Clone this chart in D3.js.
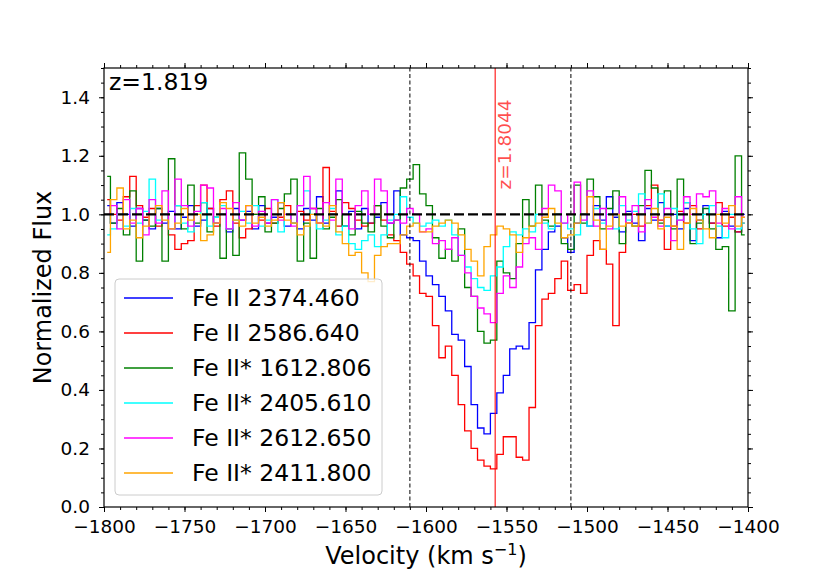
<!DOCTYPE html>
<html>
<head>
<meta charset="utf-8">
<script src="https://cdn.jsdelivr.net/npm/d3@7/dist/d3.min.js"></script>
<style>
  body { margin: 0; background: #fff; }
  svg { font-family: "DejaVu Sans", sans-serif; }
</style>
</head>
<body>
<svg id="chart" width="830" height="570"></svg>
<script>
// ---------------- data ----------------
const velStart = -1800;   // km/s, left edge of first bin
const velStep = 4;        // km/s bin width
const xTicks = [-1800, -1750, -1700, -1650, -1600, -1550, -1500, -1450, -1400];
const yTicks = [0.0, 0.2, 0.4, 0.6, 0.8, 1.0, 1.2, 1.4];
const windowEdges = [-1610, -1510];
const zSystem = "z=1.819";
const zComponent = "z=1.8044";
const zComponentVel = -1557;

const labels = ["Fe II 2374.460", "Fe II 2586.640", "Fe II* 1612.806",
                "Fe II* 2405.610", "Fe II* 2612.650", "Fe II* 2411.800"];
const colors = ["#0000ff", "#ff0000", "#008000", "#00ffff", "#ff00ff", "#ffa500"];

const fluxFeII2374 = [
  1.03,0.97,1.04,1.00,0.96, 1.02,0.98,0.95,1.02,0.97, 1.01,0.95,0.99,1.03,0.96, 0.98,1.02,0.97,1.00,0.94,
  1.02,0.98,1.01,0.95,1.03, 0.97,0.99,1.04,0.96,1.00, 0.95,1.02,0.98,1.06,0.97, 1.00,1.08,0.96,1.01,0.95,
  1.02,0.97,0.99,1.04,0.97,
  1.08,0.93,0.92,0.91,0.84, 0.79,0.76,0.72,0.67,0.59, 0.57,0.48,0.35,0.27,0.25, 0.32,0.39,0.45,0.54,0.55,
  0.54,0.63,0.81,0.88,0.94, 0.96,0.92,0.87,0.97,1.00,
  0.96,1.03,0.98,1.06,0.99, 0.94,1.01,0.97,0.91,1.02, 0.98,1.04,0.96,1.00,0.95, 1.02,0.91,0.98,1.03,0.97,
  0.92,1.01,0.96,0.94,1.00];
const fluxFeII2586 = [
  1.05,1.00,0.98,1.06,1.13, 1.03,0.99,1.02,0.96,1.00, 0.93,0.88,0.90,0.91,1.03, 1.10,1.02,0.96,1.05,1.08,
  0.97,0.92,0.95,1.00,0.98, 1.02,0.97,0.99,1.03,0.97, 1.01,0.98,1.02,0.97,1.16, 1.01,0.96,1.04,1.02,0.98,
  0.96,0.97,1.03,0.98,0.93,
  0.91,0.87,0.83,0.79,0.73, 0.72,0.62,0.51,0.55,0.45, 0.35,0.26,0.20,0.16,0.14, 0.13,0.18,0.24,0.24,0.17,
  0.16,0.34,0.62,0.71,0.73, 0.78,0.84,0.74,0.76,0.73,
  0.86,0.91,0.88,0.83,0.62, 0.87,0.97,1.00,0.96,1.03, 1.10,0.98,0.88,0.96,1.01, 0.97,1.03,0.95,1.00,0.97,
  1.04,0.96,0.99,0.94,0.97];
const fluxFeIIs1612 = [
  1.13,0.97,1.02,0.93,1.08, 0.84,0.98,0.96,1.02,0.84, 1.19,1.03,0.95,1.10,0.97, 1.04,0.94,0.99,0.85,0.95,
  0.86,1.21,1.12,1.00,1.06, 0.94,0.97,1.02,1.07,1.12, 0.84,0.97,0.85,1.02,0.95, 0.99,1.05,0.96,0.93,1.01,
  0.97,0.94,1.03,0.96,0.92,
  0.98,1.09,1.12,1.17,1.07, 1.03,0.92,0.85,0.88,0.84, 0.95,0.75,0.72,0.60,0.56, 0.57,0.84,0.80,0.78,0.90,
  1.05,0.96,1.10,0.98,0.96, 1.00,0.90,0.88,1.10,0.97,
  1.12,1.06,0.95,1.02,1.08, 0.90,1.00,0.96,1.03,1.15, 1.09,0.97,1.08,0.95,1.12, 1.04,0.90,0.97,1.02,0.95,
  0.88,0.89,0.67,1.20,0.93];
const fluxFeIIs2405 = [
  0.93,0.95,1.00,0.96,1.02, 0.97,1.01,1.12,0.98,1.00, 0.95,1.03,0.97,0.94,1.00, 1.04,0.96,0.99,1.03,0.95,
  0.98,1.01,0.97,1.03,0.96, 0.98,1.05,0.94,1.00,0.97, 1.03,1.08,1.00,0.95,0.98, 1.02,0.93,0.96,0.90,0.88,
  0.91,0.93,0.89,0.93,0.98,
  1.00,1.06,0.99,0.97,0.96, 0.97,0.98,0.96,0.98,0.93, 0.86,0.82,0.78,0.75,0.74, 0.79,0.82,0.89,0.94,0.93,
  0.95,0.94,1.00,0.97,0.95, 1.00,0.97,0.95,0.93,1.00,
  0.96,1.02,0.97,1.00,0.95, 1.03,0.98,1.01,1.07,0.97, 1.00,1.07,0.96,1.02,0.98, 1.04,0.95,0.90,1.00,1.03,
  0.96,0.92,1.00,0.95,0.97];
const fluxFeIIs2612 = [
  1.00,1.03,0.95,1.05,0.97, 1.02,0.93,1.05,0.97,1.08, 0.95,1.12,1.03,0.96,1.01, 1.10,1.09,0.97,1.02,0.95,
  1.04,0.98,1.03,0.96,1.01, 0.97,1.05,0.98,1.00,0.96, 1.03,1.13,1.02,0.97,1.04, 0.98,1.12,1.00,0.95,1.03,
  1.08,1.00,1.12,1.08,0.97,
  0.98,0.97,1.02,1.00,0.94, 0.95,0.90,0.91,0.88,0.92, 0.86,0.80,0.72,0.68,0.66, 0.63,0.73,0.79,0.75,0.82,
  0.90,0.92,0.88,1.02,1.10, 1.08,0.97,1.00,1.11,0.98,
  1.08,0.96,1.02,0.95,1.00, 1.06,0.97,1.03,0.94,1.05, 0.99,0.96,1.02,0.91,0.98, 1.06,1.00,1.07,1.06,1.08,
  0.97,1.02,0.95,1.06,0.99];
const fluxFeIIs2411 = [
  0.87,1.05,1.09,0.95,0.98, 0.92,0.96,1.00,1.03,0.98, 0.95,0.97,1.02,0.98,1.00, 0.91,0.93,0.97,1.04,1.02,
  0.98,0.96,1.03,0.97,0.99, 0.96,0.98,1.04,0.98,0.97, 0.93,0.96,1.00,0.97,0.96, 1.03,0.94,0.90,0.86,0.87,
  0.80,0.77,0.86,0.89,0.90,
  0.90,0.93,0.96,0.97,0.94, 0.94,0.96,0.97,0.98,0.97, 0.93,0.88,0.84,0.79,0.89, 0.93,0.96,0.95,0.93,0.87,
  0.92,0.96,0.97,0.99,1.02, 0.97,0.92,0.93,0.97,1.00,
  1.06,0.98,0.88,0.96,1.00, 0.96,0.97,0.96,1.00,0.97, 1.02,0.95,0.99,0.96,0.88, 0.97,1.02,0.98,0.95,0.92,
  1.00,0.97,1.03,0.96,0.99];

const seriesValues = [fluxFeII2374, fluxFeII2586, fluxFeIIs1612, fluxFeIIs2405, fluxFeIIs2612, fluxFeIIs2411];

// ---------------- layout ----------------
const svg = d3.select("#chart");
const margin = {left: 104, right: 82, top: 68, bottom: 63};
const W = 830, H = 570;
const x = d3.scaleLinear().domain([-1800, -1400]).range([margin.left, W - margin.right]);
const y = d3.scaleLinear().domain([0, 1.5]).range([H - margin.bottom, margin.top]);

svg.append("defs").append("clipPath").attr("id", "clip")
  .append("rect").attr("x", x(-1800)).attr("y", y(1.5))
  .attr("width", x(-1400) - x(-1800)).attr("height", y(0) - y(1.5));

const plot = svg.append("g").attr("clip-path", "url(#clip)");

const line = d3.line()
  .x(d => x(d[0]))
  .y(d => y(d[1]))
  .curve(d3.curveStep);

seriesValues.forEach((vals, k) => {
  const pts = vals.map((v, i) => [velStart + velStep * (i + 0.5), v]);
  plot.append("path")
    .attr("d", line(pts))
    .attr("fill", "none")
    .attr("stroke", colors[k])
    .attr("stroke-width", 1.3)
    .attr("stroke-linejoin", "miter");
});

// continuum line
plot.append("line")
  .attr("x1", x(-1800)).attr("x2", x(-1400))
  .attr("y1", y(1.0)).attr("y2", y(1.0))
  .attr("stroke", "#000").attr("stroke-width", 2.2)
  .attr("stroke-dasharray", "10,4");

// velocity window
windowEdges.forEach(v => {
  plot.append("line")
    .attr("x1", x(v)).attr("x2", x(v))
    .attr("y1", y(0)).attr("y2", y(1.5))
    .attr("stroke", "#000").attr("stroke-width", 1)
    .attr("stroke-dasharray", "4,2.5");
});

// component marker
plot.append("line")
  .attr("x1", x(zComponentVel)).attr("x2", x(zComponentVel))
  .attr("y1", y(0)).attr("y2", y(1.5))
  .attr("stroke", "#ff0000").attr("stroke-opacity", 0.7).attr("stroke-width", 1.5);
svg.append("text")
  .attr("transform", `translate(${x(zComponentVel) + 16},${y(1.085)}) rotate(-90)`)
  .attr("fill", "#ff0000").attr("fill-opacity", 0.7)
  .attr("font-size", 18.5)
  .text(zComponent);

// axes
const xMinor = d3.range(-1800, -1399, 10);
const yMinor = d3.range(0, 1.5001, 0.05);

function styleAxis(g) {
  g.select(".domain").remove();
  g.selectAll("line").attr("stroke", "#000").attr("stroke-width", 1);
  g.selectAll("text").attr("font-size", 18.5).attr("fill", "#000").attr("font-family", "DejaVu Sans");
}

svg.append("g").attr("transform", `translate(0,${y(0)})`)
  .call(d3.axisBottom(x).tickValues(xMinor).tickSize(3).tickFormat(""))
  .call(styleAxis);
svg.append("g").attr("transform", `translate(0,${y(0)})`)
  .call(d3.axisBottom(x).tickValues(xTicks).tickSize(5).tickPadding(8).tickFormat(d3.format("d")))
  .call(styleAxis);
svg.append("g").attr("transform", `translate(0,${y(1.5)})`)
  .call(d3.axisTop(x).tickValues(xMinor).tickSize(3).tickFormat(""))
  .call(styleAxis);
svg.append("g").attr("transform", `translate(0,${y(1.5)})`)
  .call(d3.axisTop(x).tickValues(xTicks).tickSize(5).tickFormat(""))
  .call(styleAxis);

svg.append("g").attr("transform", `translate(${x(-1800)},0)`)
  .call(d3.axisLeft(y).tickValues(yMinor).tickSize(3).tickFormat(""))
  .call(styleAxis);
svg.append("g").attr("transform", `translate(${x(-1800)},0)`)
  .call(d3.axisLeft(y).tickValues(yTicks).tickSize(5).tickPadding(9).tickFormat(d3.format(".1f")))
  .call(styleAxis);
svg.append("g").attr("transform", `translate(${x(-1400)},0)`)
  .call(d3.axisRight(y).tickValues(yMinor).tickSize(3).tickFormat(""))
  .call(styleAxis);
svg.append("g").attr("transform", `translate(${x(-1400)},0)`)
  .call(d3.axisRight(y).tickValues(yTicks).tickSize(5).tickFormat(""))
  .call(styleAxis);

// frame
svg.append("rect")
  .attr("x", x(-1800)).attr("y", y(1.5))
  .attr("width", x(-1400) - x(-1800)).attr("height", y(0) - y(1.5))
  .attr("fill", "none").attr("stroke", "#000").attr("stroke-width", 1.2);

// system redshift label
svg.append("text")
  .attr("x", x(-1800) + 5).attr("y", y(1.5) + 22)
  .attr("font-size", 23.5).attr("fill", "#000")
  .text(zSystem);

// axis labels
svg.append("text")
  .attr("x", (x(-1800) + x(-1400)) / 2).attr("y", 564)
  .attr("text-anchor", "middle").attr("font-size", 24)
  .html('Velocity (km s<tspan dy="-9" font-size="16">−1</tspan><tspan dy="9">)</tspan>');
svg.append("text")
  .attr("transform", `translate(51,${(y(0) + y(1.5)) / 2}) rotate(-90)`)
  .attr("text-anchor", "middle").attr("font-size", 24)
  .text("Normalized Flux");

// legend
const lg = svg.append("g");
lg.append("rect")
  .attr("x", 115).attr("y", 279).attr("width", 267).attr("height", 216)
  .attr("rx", 4).attr("fill", "#fff").attr("fill-opacity", 0.8)
  .attr("stroke", "#cccccc").attr("stroke-width", 1);
labels.forEach((lab, k) => {
  const cy = 298 + 35 * k;
  lg.append("line").attr("x1", 124).attr("x2", 173).attr("y1", cy).attr("y2", cy)
    .attr("stroke", colors[k]).attr("stroke-width", 1.3);
  lg.append("text").attr("x", 192).attr("y", cy).attr("dy", "0.36em")
    .attr("font-size", 23.5).attr("fill", "#000").text(lab);
});
</script>
</body>
</html>
